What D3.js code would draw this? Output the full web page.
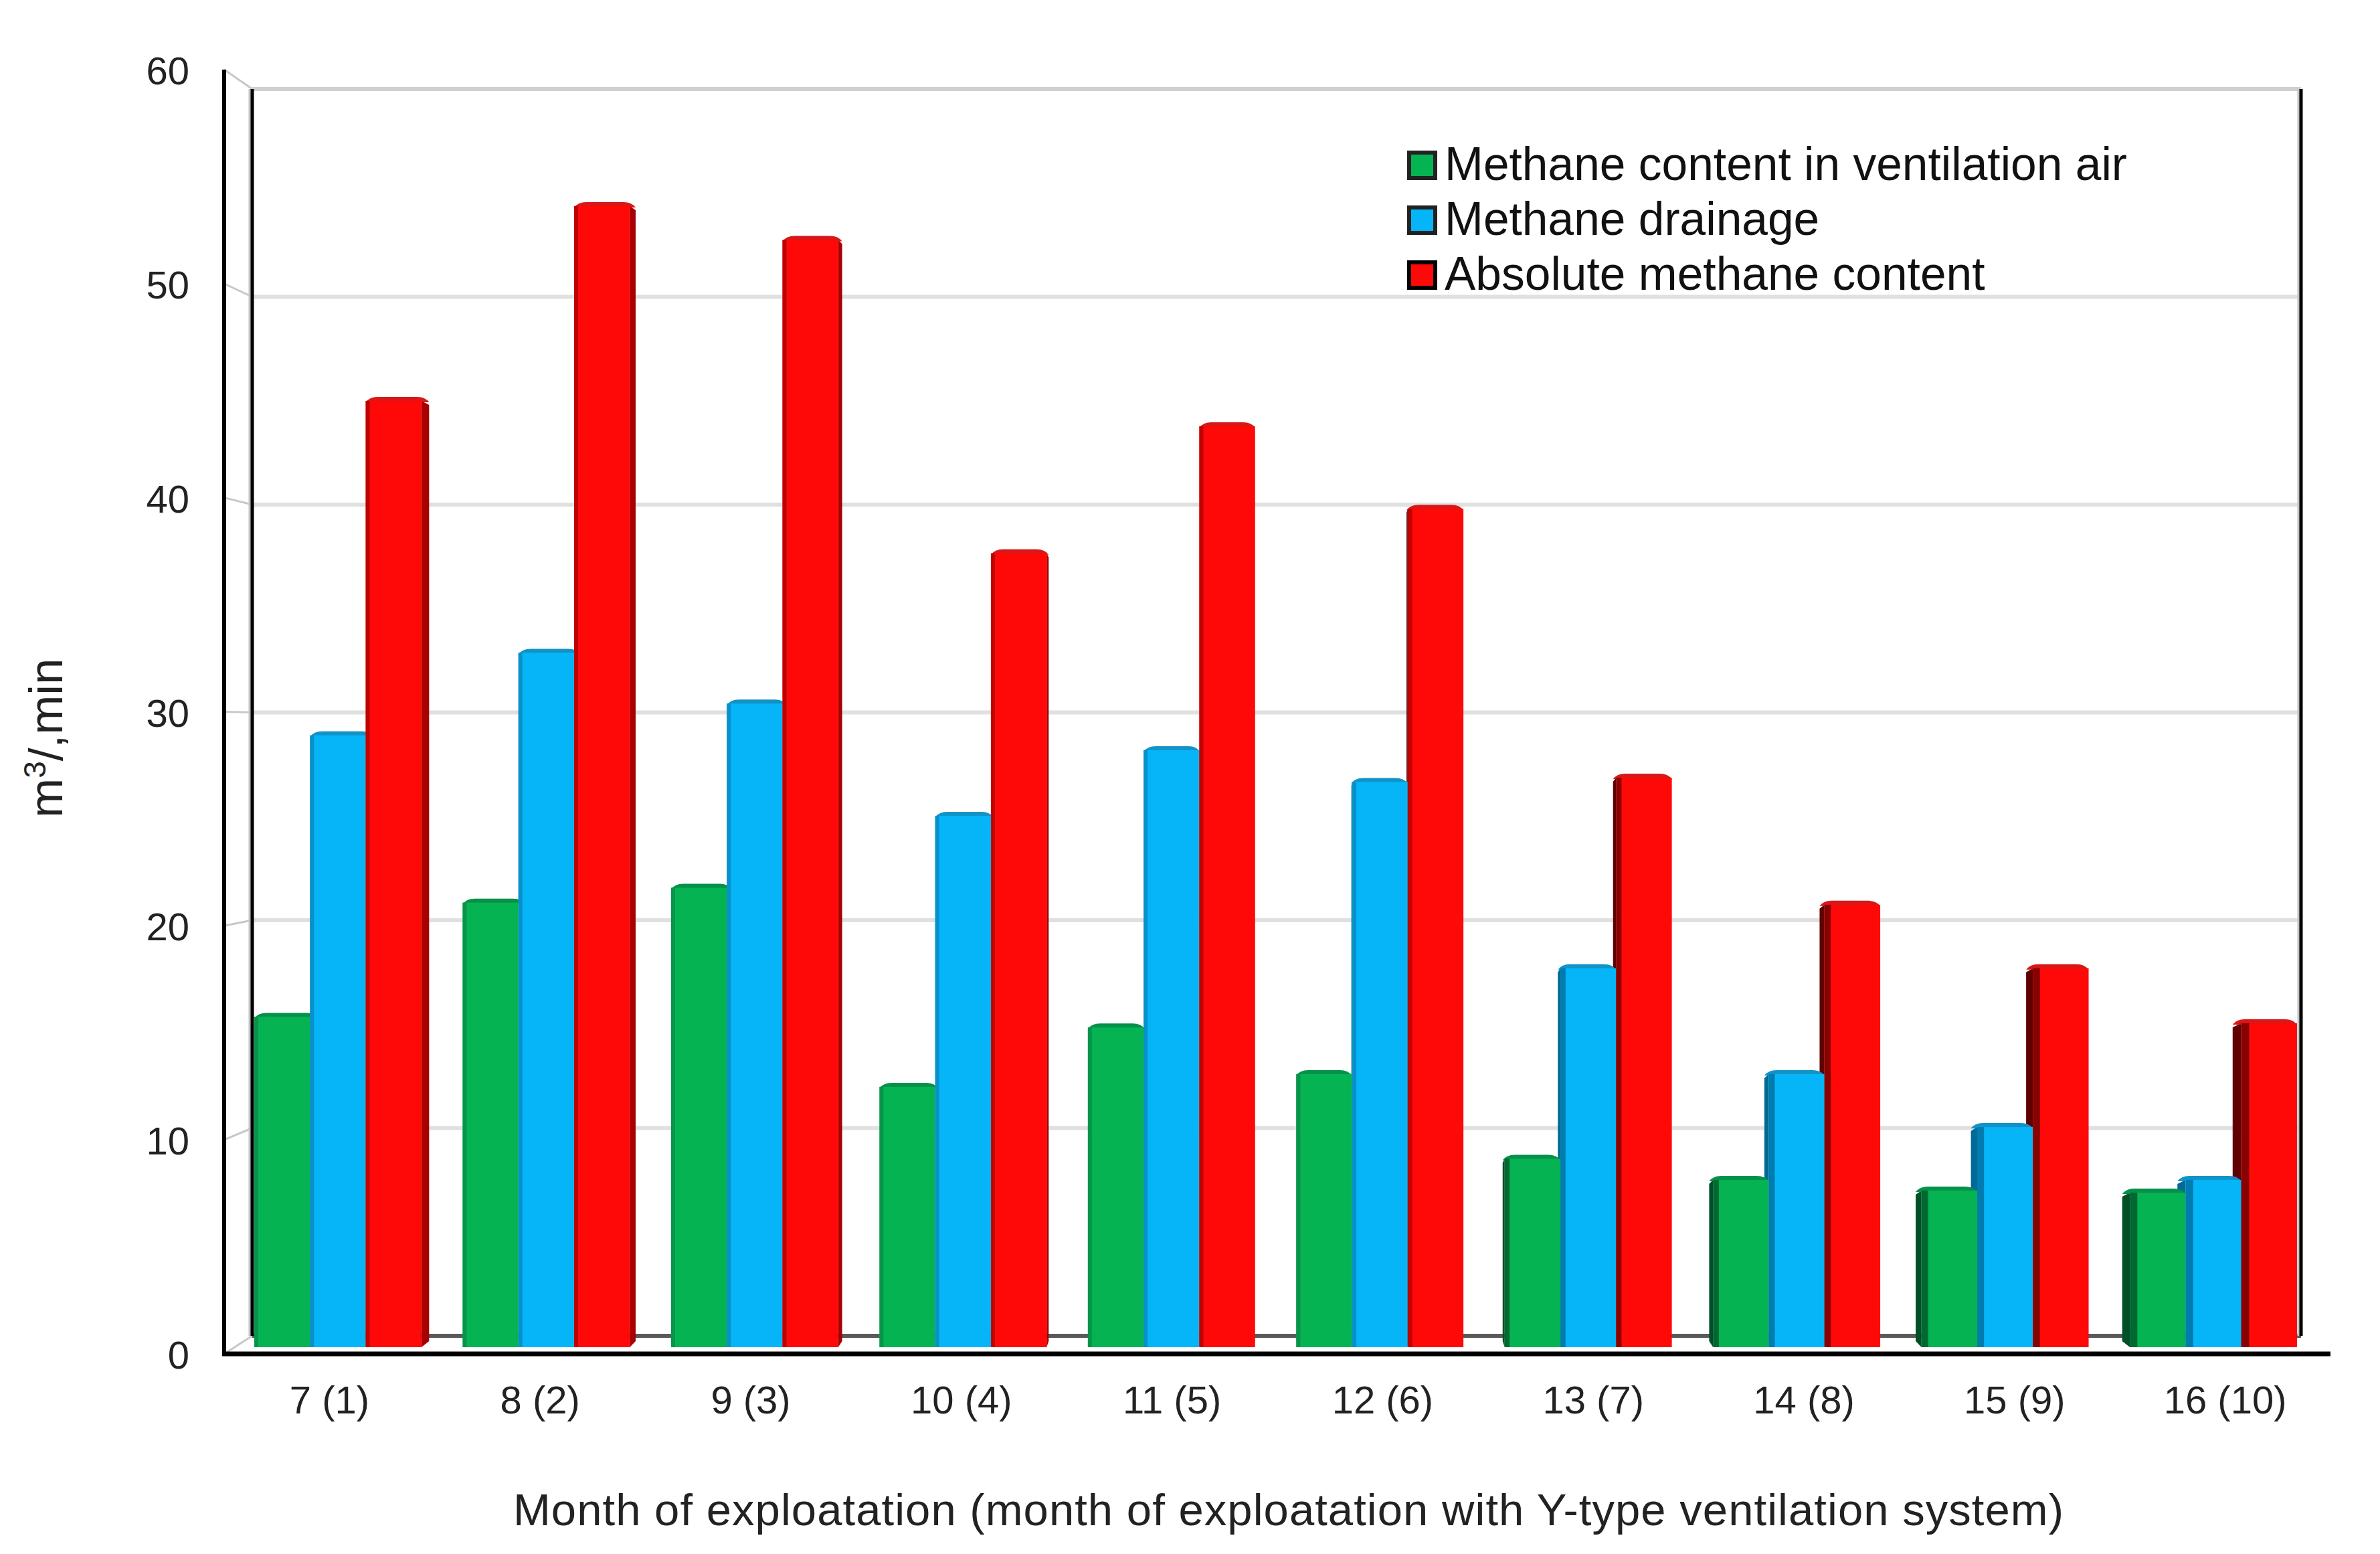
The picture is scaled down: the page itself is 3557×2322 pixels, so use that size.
<!DOCTYPE html>
<html>
<head>
<meta charset="utf-8">
<title>Methane content by month</title>
<script src="https://d3js.org/d3.v7.min.js"></script>
<style>
	body{ margin: 0; background: #fff; }
	text{ font-family: "Liberation Sans", Arial, sans-serif; }
	.tick text{ font-size: 58px; fill: #222; }
</style>
</head>
<body>
<svg id="chart" width="3557" height="2322"></svg>
<script>
// values
var months = ["7 (1)", "8 (2)", "9 (3)", "10 (4)", "11 (5)", "12 (6)", "13 (7)", "14 (8)", "15 (9)", "16 (10)"];
var seriesNames = ["Methane content in ventilation air", "Methane drainage", "Absolute methane content"];
var ventilation = [15.6, 21.0, 21.7, 12.3, 15.1, 12.9, 8.9, 7.9, 7.4, 7.3];
var drainage = [28.9, 32.8, 30.4, 25.1, 28.2, 26.7, 17.9, 12.9, 10.4, 7.9];
var absolute = [44.7, 53.9, 52.3, 37.5, 43.5, 39.6, 26.9, 20.9, 17.9, 15.3];
var yTicks = [0, 10, 20, 30, 40, 50, 60];
var xTitle = "Month of exploatation (month of exploatation with Y-type ventilation system)";

var seriesValues = [ventilation, drainage, absolute];
var faceColors = ["#05b353", "#05b5f7", "#fe0808"];
var sideLeft = ["#0a8a45", "#0a85b8", "#a80000"];   // side seen on left hand groups
var sideRight = ["#004f26", "#006a96", "#600000"];  // side seen on right hand groups
var capColors = ["#04914a", "#1293c8", "#d81818"];
var legendStroke = ["#222", "#222", "#000"];

var svg = d3.select("#chart");

// the chart is a fake 3D box: front frame, back wall, bars between them
var frontY = d3.scaleLinear().domain([0, 60]).range([2023, 104]);
var backY = d3.scaleLinear().domain([0, 60]).range([1996, 133]);
var barY = d3.scaleLinear().domain([0, 60]).range([2013, 115]);
var frontX = d3.scaleBand().domain(months).range([335, 3483]);
var groupX = d3.scaleBand().domain(months).range([380, 3433]).paddingInner(0.198);
var subX = d3.scaleBand().domain(d3.range(3)).range([0, groupX.bandwidth()]);

var backLeft = 377, backRight = 3439, frontLeft = 335;
var vanishX = 1909, depthK = 0.009;

// side walls and gridlines
svg.append("g").selectAll("line").data(yTicks).enter().append("line")
	.attr("x1", frontLeft).attr("x2", backLeft)
	.attr("y1", function(d){ return frontY(d); })
	.attr("y2", function(d){ return backY(d); })
	.attr("stroke", "#c8c8c8").attr("stroke-width", 3);

svg.append("g").selectAll("line").data(yTicks.slice(1)).enter().append("line")
	.attr("x1", backLeft).attr("x2", backRight)
	.attr("y1", function(d){ return backY(d); })
	.attr("y2", function(d){ return backY(d); })
	.attr("stroke", function(d){ return d == 60 ? "#cfcfcf" : "#e0e0e0"; })
	.attr("stroke-width", 6);

svg.append("line").attr("x1", backLeft).attr("x2", backRight)
	.attr("y1", backY(0)).attr("y2", backY(0))
	.attr("stroke", "#5a5a5a").attr("stroke-width", 6);

// back wall uprights, with the grey blur they have in the picture
[backLeft, backRight].forEach(function(x){
	svg.append("line").attr("x1", x - 3).attr("x2", x - 3).attr("y1", backY(60)).attr("y2", backY(0))
		.attr("stroke", "#c4c4c4").attr("stroke-width", 5);
	svg.append("line").attr("x1", x).attr("x2", x).attr("y1", backY(60)).attr("y2", backY(0))
		.attr("stroke", "#000").attr("stroke-width", 5);
});

// bars: sides and caps first so every front face ends up on top
var bars = [];
seriesValues.forEach(function(values, s){
	values.forEach(function(v, i){
		var x0 = groupX(months[i]) + subX(s);
		bars.push({s: s, i: i, x0: x0, x1: x0 + subX.bandwidth(), top: barY(v)});
	});
});

var base = barY(0);

svg.append("g").selectAll("path").data(bars).enter().append("path")
	.attr("d", function(d){
		var onRight = d.x0 > vanishX;
		var edge = onRight ? d.x0 : d.x1;
		var far = edge + (vanishX - edge) * depthK;
		return "M" + edge + "," + d.top + "L" + far + "," + (d.top + 6) +
			"L" + far + "," + (base - 9) + "L" + edge + "," + base + "Z";
	})
	.attr("fill", function(d){ return d.x0 > vanishX ? sideRight[d.s] : sideLeft[d.s]; });

svg.append("g").selectAll("path").data(bars).enter().append("path")
	.attr("d", function(d){
		var onRight = d.x0 > vanishX;
		var edge = onRight ? d.x0 : d.x1;
		var off = (vanishX - edge) * depthK;
		var a = onRight ? d.x0 + off : d.x0;
		var b = onRight ? d.x1 : d.x1 + off;
		return "M" + a + "," + (d.top + 2) + "Q" + (a + 6) + "," + (d.top - 6) + " " + (a + 18) + "," + (d.top - 6) +
			"L" + (b - 18) + "," + (d.top - 6) + "Q" + (b - 6) + "," + (d.top - 6) + " " + b + "," + (d.top + 2) + "Z";
	})
	.attr("fill", function(d){ return capColors[d.s]; });

svg.append("g").selectAll("rect").data(bars).enter().append("rect")
	.attr("x", function(d){ return d.x0; })
	.attr("y", function(d){ return d.top; })
	.attr("width", subX.bandwidth())
	.attr("height", function(d){ return base - d.top; })
	.attr("fill", function(d){ return faceColors[d.s]; });

// darker strip down the left edge of each front face, wider away from the centre
svg.append("g").selectAll("rect").data(bars).enter().append("rect")
	.attr("x", function(d){ return d.x0; })
	.attr("y", function(d){ return d.top; })
	.attr("width", function(d){ return d.x0 > vanishX ? 6 + (d.x0 - vanishX) * 0.004 : 6; })
	.attr("height", function(d){ return base - d.top; })
	.attr("fill", function(d){ return d.x0 > vanishX + 300 ? sideRight[d.s] : sideLeft[d.s]; })
	.attr("opacity", 0.75);

// front frame
svg.append("line").attr("x1", frontLeft).attr("x2", frontLeft).attr("y1", frontY(60)).attr("y2", frontY(0))
	.attr("stroke", "#000").attr("stroke-width", 6);
svg.append("line").attr("x1", frontLeft - 3).attr("x2", frontX.range()[1]).attr("y1", frontY(0)).attr("y2", frontY(0))
	.attr("stroke", "#000").attr("stroke-width", 7);

// axes
var yAxis = d3.axisLeft(frontY).tickValues(yTicks).tickSize(0).tickPadding(52);
svg.append("g").attr("transform", "translate(" + frontLeft + ",3)").call(yAxis)
	.call(function(g){ g.select(".domain").remove(); });

var xAxis = d3.axisBottom(frontX).tickSize(0).tickPadding(48);
svg.append("g").attr("transform", "translate(0," + frontY(0) + ")").call(xAxis)
	.call(function(g){ g.select(".domain").remove(); });

svg.append("text")
	.attr("x", 767).attr("y", 2279)
	.attr("font-size", 67).attr("fill", "#222")
	.attr("textLength", 2317).attr("lengthAdjust", "spacing")
	.text(xTitle);

var yTitle = svg.append("text")
	.attr("transform", "translate(93,1222) rotate(-90)")
	.attr("font-size", 71).attr("fill", "#222");
yTitle.append("tspan").text("m");
yTitle.append("tspan").attr("font-size", 46).attr("dy", -25).text("3");
yTitle.append("tspan").attr("dy", 25).text("/,min");

// legend
var legendY = d3.scalePoint().domain(seriesNames).range([269, 433]);
var legend = svg.append("g").selectAll("g").data(seriesNames).enter().append("g")
	.attr("transform", function(d){ return "translate(0," + legendY(d) + ")"; });

legend.append("rect")
	.attr("x", 2106).attr("y", -41)
	.attr("width", 39).attr("height", 38)
	.attr("fill", function(d, i){ return faceColors[i]; })
	.attr("stroke", function(d, i){ return legendStroke[i]; })
	.attr("stroke-width", 6);

legend.append("text")
	.attr("x", 2159)
	.attr("font-size", 69.5).attr("fill", "#111")
	.text(function(d){ return d; });
</script>
</body>
</html>
